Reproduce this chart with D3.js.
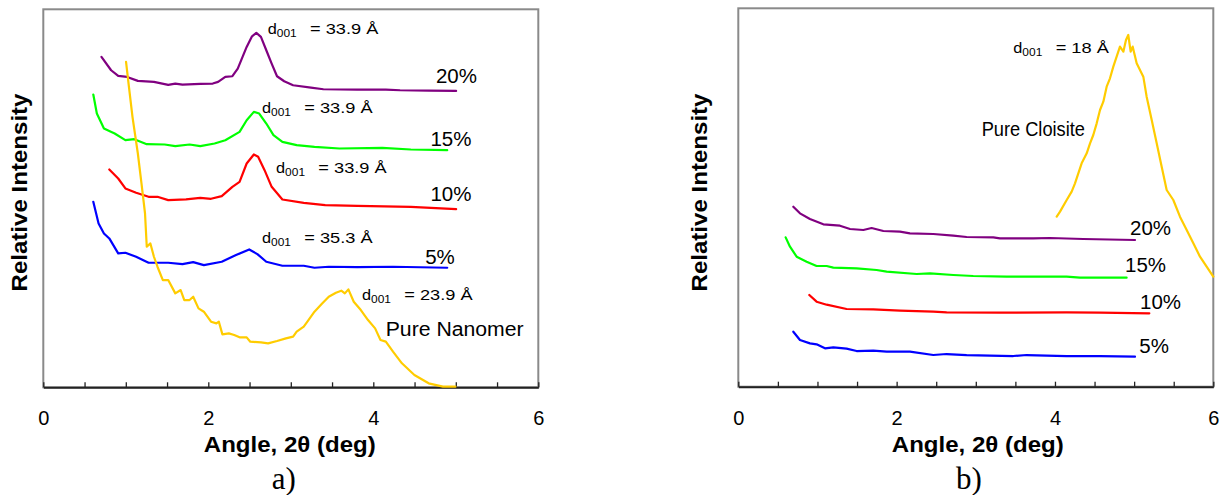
<!DOCTYPE html>
<html><head><meta charset="utf-8">
<script src="https://cdn.jsdelivr.net/npm/d3@7"></script>
<style>
body{margin:0;background:#fff}
svg{display:block}
text{font-family:"Liberation Sans",Arial,Helvetica,sans-serif;fill:#000}
</style>
</head><body>
<svg id="chart" width="1225" height="495"></svg>
<script>
// ---------- data (angle 2θ in deg, relative intensity in arbitrary units) ----------
const xTickLabels = [0, 2, 4, 6];
const xTickMarks = [0, 0.5, 1, 1.5, 2, 2.5, 3, 3.5, 4, 4.5, 5, 5.5, 6];
const seriesLabels = ["20%", "15%", "10%", "5%"];

// panel a) nanomer composites
const nano20 = [[0.705,992],[0.822,952],[0.908,935],[1.016,932],[1.146,920],[1.341,917],[1.514,908],[1.600,912],[1.687,909],[1.903,911],[2.054,912],[2.119,917],[2.206,932],[2.292,934],[2.357,957],[2.465,1022],[2.530,1054],[2.582,1064],[2.638,1052],[2.703,1012],[2.768,972],[2.833,934],[2.920,919],[3.028,907],[3.244,900],[3.395,895],[3.806,894],[4.152,894],[4.325,892],[4.671,891],[5.004,890]];
const nano15 = [[0.606,879],[0.649,822],[0.735,777],[0.865,762],[0.995,742],[1.103,745],[1.254,730],[1.471,729],[1.600,724],[1.773,729],[1.903,724],[2.076,732],[2.206,742],[2.379,767],[2.465,802],[2.552,827],[2.617,822],[2.703,792],[2.790,757],[2.898,737],[3.071,727],[3.287,722],[3.590,717],[4.109,719],[4.455,714],[4.896,712]];
const nano10 = [[0.800,654],[0.908,627],[0.995,597],[1.125,584],[1.276,572],[1.384,572],[1.514,562],[1.730,564],[1.903,569],[2.033,566],[2.163,574],[2.292,602],[2.379,617],[2.465,672],[2.552,699],[2.604,692],[2.682,652],[2.768,602],[2.898,564],[3.157,554],[3.417,547],[3.806,545],[4.455,542],[5.004,535]];
const nano5 = [[0.606,557],[0.670,492],[0.735,462],[0.800,447],[0.908,402],[0.995,404],[1.125,392],[1.276,374],[1.514,374],[1.687,370],[1.817,376],[1.946,367],[2.163,377],[2.336,397],[2.496,414],[2.595,400],[2.703,377],[2.898,365],[3.157,365],[3.287,359],[3.460,362],[3.806,361],[4.239,362],[4.896,359]];
const pureNanomer = [[1.003,977],[1.038,902],[1.081,812],[1.146,702],[1.190,612],[1.233,522],[1.254,422],[1.298,432],[1.341,392],[1.384,362],[1.449,322],[1.514,322],[1.600,282],[1.665,292],[1.709,262],[1.773,262],[1.817,272],[1.881,237],[1.946,227],[2.033,197],[2.098,192],[2.128,197],[2.171,159],[2.249,162],[2.314,157],[2.379,150],[2.465,150],[2.509,137],[2.639,135],[2.725,132],[2.833,139],[2.941,147],[3.028,152],[3.071,167],[3.157,182],[3.201,197],[3.287,227],[3.374,250],[3.460,272],[3.547,284],[3.612,290],[3.655,282],[3.698,294],[3.763,257],[3.849,232],[3.936,202],[4.022,177],[4.087,142],[4.152,137],[4.239,107],[4.347,72],[4.498,37],[4.671,12],[4.844,2],[4.996,2]];

// panel b) cloisite composites
const clo20 = [[0.695,540],[0.779,520],[0.905,503],[1.074,487],[1.284,483],[1.411,473],[1.579,470],[1.684,476],[1.832,467],[2.042,465],[2.168,460],[2.463,458],[2.716,453],[2.884,449],[3.221,448],[3.305,445],[3.726,445],[3.937,446],[4.358,443],[5.011,440]];
const clo15 = [[0.598,448],[0.653,420],[0.737,390],[0.863,375],[0.989,362],[1.116,362],[1.200,357],[1.495,355],[1.747,350],[1.874,345],[2.253,338],[2.421,340],[2.716,335],[2.968,332],[3.389,330],[4.147,330],[4.316,327],[4.905,327]];
const clo10 = [[0.897,275],[0.989,255],[1.116,246],[1.368,233],[1.705,232],[2.042,228],[2.463,225],[2.632,223],[3.305,222],[4.147,223],[4.568,222],[5.192,220]];
const clo5 = [[0.695,165],[0.779,140],[0.905,130],[0.989,127],[1.095,115],[1.200,118],[1.368,114],[1.495,107],[1.705,108],[1.874,105],[2.168,105],[2.463,95],[2.632,98],[2.884,95],[3.474,92],[3.642,95],[4.147,92],[4.568,92],[5.011,90]];
const pureCloisite = [[4.022,510],[4.064,525],[4.148,560],[4.211,585],[4.253,610],[4.295,640],[4.337,670],[4.401,700],[4.443,730],[4.484,755],[4.527,790],[4.569,830],[4.611,855],[4.653,900],[4.695,925],[4.737,960],[4.779,990],[4.821,1020],[4.864,1005],[4.897,1040],[4.926,1055],[4.956,1005],[4.982,1020],[5.032,970],[5.116,930],[5.158,870],[5.222,800],[5.285,730],[5.348,660],[5.411,590],[5.495,560],[5.579,510],[5.664,470],[5.748,430],[5.832,390],[5.916,360],[6.0,330]];

// d-spacing annotations
const dSpacingA = ["33.9", "33.9", "33.9", "35.3", "23.9"];
const dSpacingB = ["18"];

// ---------- layout / style ----------
const colors = ["#800080", "#00ff00", "#ff0000", "#0000ff", "#ffcc00"];
const svg = d3.select("#chart");

const panels = [
  {
    left: 43.3, right: 538.3, top: 9.3, bottom: 387.3,
    series: [nano20, nano15, nano10, nano5, pureNanomer],
    pctPos: [[4.759,915],[4.693,725],[4.693,560],[4.629,369]],
    dPos: [[2.72,1061],[2.651,823],[2.821,643],[2.651,432],[3.863,262]],
    dVals: dSpacingA, eqLen: 68.3,
    name: "Pure Nanomer", namePos: [4.150,154], nameLen: 138,
    yTitleX: 27, titleShift: -1, tag: "a)"
  },
  {
    left: 738.3, right: 1213.3, top: 8.3, bottom: 386.7,
    series: [clo20, clo15, clo10, clo5, pureCloisite],
    pctPos: [[4.948,455],[4.885,345],[5.074,232],[5.065,100]],
    dPos: [[3.474,1001]],
    dVals: dSpacingB, eqLen: 53.3,
    name: "Pure Cloisite", namePos: [3.074,751], nameLen: 103.3,
    yTitleX: 707.3, titleShift: 2, tag: "b)"
  }
];

panels.forEach(p => {
  const x = d3.scaleLinear().domain([0, 6]).range([p.left, p.right]);
  const y = d3.scaleLinear().domain([0, 1135]).range([p.bottom, p.top]);
  const g = svg.append("g");

  // frame (gray)
  g.append("rect")
    .attr("x", p.left).attr("y", p.top)
    .attr("width", p.right - p.left).attr("height", p.bottom - p.top)
    .attr("fill", "none").attr("stroke", "#8a8a8a").attr("stroke-width", 2);

  // x axis ticks (inside)
  const ax = g.append("g").attr("transform", `translate(0,${p.bottom})`)
    .call(d3.axisBottom(x).tickValues(xTickMarks).tickSizeInner(-5).tickSizeOuter(0)
      .tickPadding(24).tickFormat(d => xTickLabels.includes(d) ? d3.format("d")(d) : ""));
  ax.select(".domain").attr("stroke", "#222").attr("stroke-width", 2);
  ax.selectAll(".tick line").attr("stroke", "#222").attr("stroke-width", 1.3);
  ax.selectAll(".tick text").attr("font-size", 20).attr("fill", "#000")
    .attr("font-family", "'Liberation Sans',Arial,sans-serif");

  // curves
  const line = d3.line().x(d => x(d[0])).y(d => y(d[1]));
  p.series.forEach((s, i) => {
    g.append("path").datum(s).attr("d", line)
      .attr("fill", "none").attr("stroke", colors[i]).attr("stroke-width", 2.2)
      .attr("stroke-linejoin", "round").attr("stroke-linecap", "round");
  });

  // percent labels
  seriesLabels.forEach((lab, i) => {
    g.append("text").attr("x", x(p.pctPos[i][0])).attr("y", y(p.pctPos[i][1]))
      .attr("font-size", 20.5).text(lab);
  });

  // d001 labels
  p.dVals.forEach((v, i) => {
    const px = x(p.dPos[i][0]), py = y(p.dPos[i][1]);
    const t = g.append("text").attr("x", px).attr("y", py).attr("font-size", 15)
      .attr("textLength", 29).attr("lengthAdjust", "spacingAndGlyphs");
    t.append("tspan").text("d");
    t.append("tspan").attr("font-size", 11).attr("dy", 3).text("001");
    g.append("text").attr("x", px + 42.3).attr("y", py).attr("font-size", 15)
      .attr("textLength", p.eqLen).attr("lengthAdjust", "spacingAndGlyphs")
      .text("= " + v + " Å");
  });

  // pure sample name
  g.append("text").attr("x", x(p.namePos[0])).attr("y", y(p.namePos[1]))
    .attr("font-size", 19.5).attr("textLength", p.nameLen).attr("lengthAdjust", "spacingAndGlyphs")
    .text(p.name);

  // axis titles
  g.append("text").attr("x", (p.left + p.right) / 2 + p.titleShift).attr("y", 451.5)
    .attr("text-anchor", "middle").attr("font-size", 21.5).attr("font-weight", "bold")
    .attr("textLength", 172).attr("lengthAdjust", "spacingAndGlyphs")
    .text("Angle, 2θ (deg)");
  g.append("text")
    .attr("transform", `translate(${p.yTitleX},192.5) rotate(-90)`)
    .attr("text-anchor", "middle").attr("font-size", 21.5).attr("font-weight", "bold")
    .attr("textLength", 198).attr("lengthAdjust", "spacingAndGlyphs")
    .text("Relative Intensity");

  // panel tag
  g.append("text").attr("x", (p.left + p.right) / 2 - 7).attr("y", 489)
    .attr("text-anchor", "middle").attr("font-size", 31)
    .style("font-family", "'Liberation Serif','Times New Roman',serif")
    .text(p.tag);
});
</script>
</body></html>
